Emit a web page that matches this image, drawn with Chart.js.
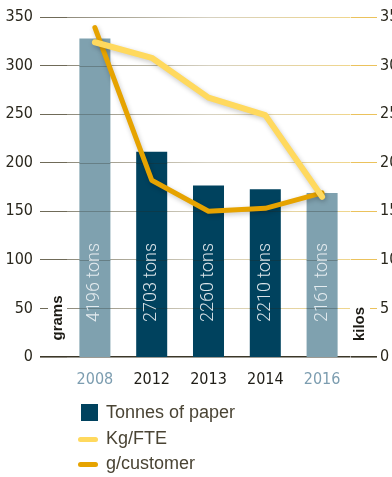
<!DOCTYPE html>
<html>
<head>
<meta charset="utf-8">
<script src="https://cdn.jsdelivr.net/npm/chart.js@4/dist/chart.umd.min.js"></script>
<style>
  html, body { margin: 0; padding: 0; background: #fff; }
  #wrap { position: relative; width: 392px; height: 477px; overflow: hidden; }
  #legend { position: absolute; left: 76px; top: 402px; font-family: "Liberation Sans", Arial, sans-serif;
            font-size: 18px; color: #4a4434; }
  .item { position: relative; height: 25.5px; line-height: 20px; padding-left: 30px; }
  .box { position: absolute; left: 5px; top: 2px; width: 17px; height: 17px; background: #00425e; }
  .ln { position: absolute; left: 2px; top: 9px; width: 20px; height: 5px; border-radius: 3px; }
</style>
</head>
<body>
<div id="wrap">
  <canvas id="chart" width="392" height="477"></canvas>
  <div id="legend">
    <div class="item"><span class="box"></span>Tonnes of paper</div>
    <div class="item"><span class="ln" style="background:#ffd95e"></span>Kg/FTE</div>
    <div class="item"><span class="ln" style="background:#e6a300"></span>g/customer</div>
  </div>
</div>
<script>
// ------------------------------------
// DATA
// ------------------------------------
const years = ["2008", "2012", "2013", "2014", "2016"];
const tonnesOfPaper = [4196, 2703, 2260, 2210, 2161];
const kgPerFte = [32.4, 30.8, 26.7, 24.9, 16.5];
const gPerCustomer = [339, 182, 150, 153, 169];
const gramsTicks = [0, 50, 100, 150, 200, 250, 300, 350];
const kilosTicks = [0, 5, 10, 15, 20, 25, 30, 35];
const tonnesAxisMax = 4480;

const lightYears = ["2008", "2016"];
const barColors = years.map((y) => (lightYears.includes(y) ? "#7fa1af" : "#00425e"));

const tickFont = { family: "'Liberation Sans Narrow', 'DejaVu Sans Condensed', sans-serif", size: 16 };

// ------------------------------------
// grid gradient (grey -> gold)
// ------------------------------------
let gridGrad = null, gridKey = "";
function gridColor(c) {
  if (c.tick && c.tick.value === 0) return "#3b3728";
  const area = c.chart.chartArea;
  if (!area) return "#a9a495";
  const key = area.left + ":" + area.right;
  if (!gridGrad || key !== gridKey) {
    const g = c.chart.ctx.createLinearGradient(area.left, 0, area.right, 0);
    g.addColorStop(0, "#8f8b7c");
    g.addColorStop(0.5, "#d6d1c1");
    g.addColorStop(1, "#f0d68c");
    gridGrad = g; gridKey = key;
  }
  return gridGrad;
}

// ------------------------------------
// PLUGINS
// ------------------------------------
const lineShadow = {
  id: "lineShadow",
  beforeDatasetDraw(chart, args) {
    if (chart.data.datasets[args.index].type !== "line") return;
    const ctx = chart.ctx;
    ctx.save();
    ctx.shadowColor = "rgba(0,0,0,0.22)";
    ctx.shadowBlur = 5;
    ctx.shadowOffsetX = 1;
    ctx.shadowOffsetY = 2;
  },
  afterDatasetDraw(chart, args) {
    if (chart.data.datasets[args.index].type !== "line") return;
    chart.ctx.restore();
  },
};

const barExtras = {
  id: "barExtras",
  afterDatasetDraw(chart, args) {
    if (chart.data.datasets[args.index].type !== "bar") return;
    const ctx = chart.ctx;
    const ys = chart.scales.y;
    const meta = chart.getDatasetMeta(args.index);
    ctx.save();
    // grid lines visible through bars
    ctx.strokeStyle = "rgba(40,40,30,0.28)";
    ctx.lineWidth = 1;
    meta.data.forEach((bar) => {
      gramsTicks.forEach((t) => {
        if (t === 0) return;
        const py = Math.round(ys.getPixelForValue(t)) + 0.5;
        if (py > bar.y && py < bar.base) {
          ctx.beginPath();
          ctx.moveTo(bar.x - bar.width / 2, py);
          ctx.lineTo(bar.x + bar.width / 2, py);
          ctx.stroke();
        }
      });
    });
    // rotated labels inside bars
    ctx.fillStyle = "rgba(235,241,244,0.92)";
    ctx.font = "300 18px Roboto, 'Liberation Sans', sans-serif";
    ctx.textAlign = "left";
    ctx.textBaseline = "middle";
    meta.data.forEach((bar, i) => {
      ctx.save();
      ctx.translate(bar.x, bar.base - 35);
      ctx.rotate(-Math.PI / 2);
      ctx.fillText(tonnesOfPaper[i] + " tons", 0, 0);
      ctx.restore();
    });
    ctx.restore();
  },
};

const axisTitles = {
  id: "axisTitles",
  afterDraw(chart) {
    const ctx = chart.ctx;
    const ys = chart.scales.y;
    const y50 = ys.getPixelForValue(50);
    ctx.save();
    ctx.fillStyle = "#fff";
    ctx.fillRect(48, y50 - 3, 19, 6);
    ctx.fillRect(350, y50 - 3, 20, 6);
    ctx.fillStyle = "#1c1a14";
    ctx.font = "bold 15px 'Liberation Sans', Arial, sans-serif";
    ctx.textAlign = "center";
    ctx.textBaseline = "middle";
    ctx.save();
    ctx.translate(58, 318);
    ctx.rotate(-Math.PI / 2);
    ctx.fillText("grams", 0, 0);
    ctx.restore();
    ctx.save();
    ctx.translate(360, 324);
    ctx.rotate(-Math.PI / 2);
    ctx.fillText("kilos", 0, 0);
    ctx.restore();
    ctx.restore();
  },
};

// ------------------------------------
// CHART
// ------------------------------------
const ctx = document.getElementById("chart").getContext("2d");
window.myChart = new Chart(ctx, {
  data: {
    labels: years,
    datasets: [
      {
        type: "line",
        label: "Kg/FTE",
        data: kgPerFte,
        yAxisID: "y2",
        borderColor: "#ffd95e",
        borderWidth: 6,
        pointRadius: 0,
        tension: 0,
        borderCapStyle: "round",
        borderJoinStyle: "round",
        order: 0,
      },
      {
        type: "line",
        label: "g/customer",
        data: gPerCustomer,
        yAxisID: "y",
        borderColor: "#e6a300",
        borderWidth: 5,
        pointRadius: 0,
        tension: 0,
        borderCapStyle: "round",
        borderJoinStyle: "round",
        order: 1,
      },
      {
        type: "bar",
        label: "Tonnes of paper",
        data: tonnesOfPaper,
        yAxisID: "yT",
        backgroundColor: barColors,
        categoryPercentage: 1,
        barPercentage: 0.546,
        order: 2,
      },
    ],
  },
  options: {
    responsive: false,
    animation: false,
    layout: { padding: { left: 0, right: 0, top: 17, bottom: 85 } },
    plugins: { legend: { display: false }, tooltip: { enabled: false } },
    scales: {
      x: {
        offset: true,
        grid: { display: false, drawTicks: false },
        border: { display: false },
        ticks: {
          padding: 13,
          font: tickFont,
          color: (c) => (lightYears.includes(years[c.index]) ? "#7c9db0" : "#1f1d17"),
        },
        afterFit(s) { s.height = 35; },
      },
      y: {
        position: "left",
        min: 0,
        max: 350,
        afterBuildTicks(s) { s.ticks = gramsTicks.map((v) => ({ value: v })); },
        grid: {
          color: gridColor,
          lineWidth: (c) => (c.tick && c.tick.value === 0 ? 1.6 : 1),
          tickLength: 26.5,
          tickColor: (c) => (c.tick && c.tick.value === 0 ? "#3b3728" : "#6f6a58"),
        },
        border: { display: false },
        ticks: { padding: 7, font: tickFont, color: "#2a271d" },
        afterFit(s) { s.width = 66.5; },
      },
      y2: {
        position: "right",
        min: 0,
        max: 35,
        afterBuildTicks(s) { s.ticks = kilosTicks.map((v) => ({ value: v })); },
        grid: {
          drawOnChartArea: false,
          tickLength: 26.5,
          lineWidth: (c) => (c.tick && c.tick.value === 0 ? 1.6 : 1),
          tickColor: (c) => (c.tick && c.tick.value === 0 ? "#3b3728" : "#ebc25c"),
        },
        border: { display: false },
        ticks: { padding: 3, font: tickFont, color: "#2a271d" },
        afterFit(s) { s.width = 41.5; },
      },
      yT: {
        display: false,
        min: 0,
        max: tonnesAxisMax,
      },
    },
  },
  plugins: [lineShadow, barExtras, axisTitles],
});
</script>
</body>
</html>
